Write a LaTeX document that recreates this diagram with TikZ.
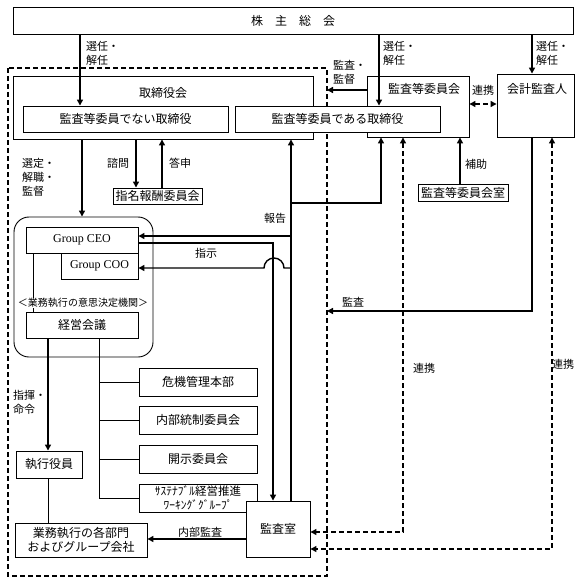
\documentclass[tikz,border=0pt]{standalone}
\usepackage{fontspec}
\setmainfont{Liberation Serif}
\newfontfamily\jpfont{Noto Sans CJK JP}
\usetikzlibrary{arrows.meta}

\tikzset{
  box/.style={rectangle,draw,line width=0.9bp,fill=white,inner sep=0pt,align=center,
    font=\jpfont\fontsize{12bp}{14bp}\selectfont},
  title/.style={inner sep=0pt,font=\jpfont\fontsize{12bp}{14bp}\selectfont},
  lbl/.style={inner sep=0pt,align=left,font=\jpfont\fontsize{11bp}{14bp}\selectfont},
  link/.style={line width=0.9bp},
  arr/.style={line width=1.4bp,-{Triangle[length=6bp,width=6bp]}},
  dsh/.style={line width=1.3bp,dash pattern=on 5bp off 3bp},
  darr/.style={dsh,{Triangle[length=6bp,width=6bp]}-{Triangle[length=6bp,width=6bp]}},
}

\begin{document}
\begin{tikzpicture}[x=1bp,y=-1bp]
\useasboundingbox (0,0) rectangle (581,584);

% shareholders and the management area
\node at (293,20.5) [box,minimum width=560bp,minimum height=27bp] (soukai) {株\quad 主\quad 総\quad 会};
\draw[dsh] (8,68) rectangle (327,576);

% board
\node at (163,107.5) [box,minimum width=300bp,minimum height=63bp] (torikai) {};
\node at (163,93) [title] (torikaiT) {取締役会};
\node at (418,106.5) [box,minimum width=102bp,minimum height=61bp] (iinkai) {};
\node at (424,89) [title] (iinkaiT) {監査等委員会};
\node at (125.5,119) [box,minimum width=205bp,minimum height=26bp] (nashi) {監査等委員でない取締役};
\node at (337.5,119) [box,minimum width=205bp,minimum height=26bp] (aru) {監査等委員である取締役};
\node at (535.5,105.5) [box,minimum width=77bp,minimum height=63bp] (kaikei) {};
\node at (537,89) [title] (kaikeiT) {会計監査人};
\node at (157.5,196) [box,minimum width=89bp,minimum height=16bp] (shimei) {指名報酬委員会};
\node at (463,192.5) [box,minimum width=90bp,minimum height=17bp] (shitsu) {監査等委員会室};

% execution
\node at (83.5,287) [draw,line width=0.9bp,rounded corners=15bp,minimum width=139bp,minimum height=140bp] (kettei) {};
\node at (82,240) [box,minimum width=112bp,minimum height=26bp,font=\fontsize{12bp}{14bp}\selectfont] (ceo) {Group CEO};
\node at (99.5,266) [box,minimum width=77bp,minimum height=26bp,font=\fontsize{12bp}{14bp}\selectfont] (coo) {Group COO};
\node at (82,325) [box,minimum width=112bp,minimum height=26bp] (keiei) {経営会議};
\node at (49,464.5) [box,minimum width=66bp,minimum height=27bp] (shikkou) {執行役員};
\node at (81,540) [box,minimum width=132bp,minimum height=34bp] (gyomu) {業務執行の各部門\\およびグループ会社};
\node at (198,382) [box,minimum width=118bp,minimum height=28bp] (kiki) {危機管理本部};
\node at (198,420) [box,minimum width=118bp,minimum height=28bp] (naibu) {内部統制委員会};
\node at (198,459) [box,minimum width=118bp,minimum height=28bp] (kaiji) {開示委員会};
\node at (198,498) [box,minimum width=118bp,minimum height=28bp,font=\jpfont\fontsize{11.5bp}{14.5bp}\selectfont] (sustain) {ｻｽﾃﾅﾌﾞﾙ経営推進\\ﾜｰｷﾝｸﾞｸﾞﾙｰﾌﾟ};
\node at (278,529) [box,minimum width=64bp,minimum height=56bp] (kansashitsu) {監査室};

% lanes
\coordinate (sen1) at (80,0);
\coordinate (sen2) at (379,0);
\coordinate (sen3) at (532,0);
\coordinate (kantokuEnd) at (327,90);
\coordinate (renkeiY) at (0,104);
\coordinate (sentei) at (82,0);
\coordinate (shimonX) at (136,0);
\coordinate (toushinX) at (162,0);
\coordinate (hojoX) at (460,0);
\coordinate (kansaEnd) at (327,311);
\coordinate (renkei1) at (403,0);
\coordinate (renkei2) at (552,0);
\coordinate (renkeiY1) at (0,532);
\coordinate (renkeiY2) at (0,549);
\coordinate (houX) at (291,0);
\coordinate (houX2) at (381,0);
\coordinate (houY) at (0,203);
\coordinate (houY2) at (0,236);
\coordinate (houY3) at (0,268);
\coordinate (shijiX) at (273,0);
\coordinate (shijiY) at (0,243);
\coordinate (naibuY) at (0,539);
\coordinate (ceoX) at (33,0);
\coordinate (shikiX) at (48,0);
\coordinate (branchX) at (99,0);

% election
\draw[arr] (soukai.south -| sen1) -- (nashi.north -| sen1);
\draw[arr] (soukai.south -| sen2) -- (aru.north -| sen2);
\draw[arr] (soukai.south -| sen3) -- (kaikei.north -| sen3);
\node at (86,53.5) [lbl,anchor=west] (sen1L) {選任・\\解任};
\node at (383,53.5) [lbl,anchor=west] (sen2L) {選任・\\解任};
\node at (536,53.5) [lbl,anchor=west] (sen3L) {選任・\\解任};

% audit committee
\draw[arr] (iinkai.west |- kantokuEnd) -- (kantokuEnd);
\node at (333,72) [lbl,anchor=west] (kantokuL) {監査・\\監督};
\draw[darr] (iinkai.east |- renkeiY) -- (kaikei.west |- renkeiY);
\node at (483,90) [lbl] (renkeiL) {連携};
\draw[arr] (shitsu.north -| hojoX) -- (iinkai.south -| hojoX);
\node at (476,164) [lbl] (hojoL) {補助};
\draw[arr] (kaikei.south -| sen3) |- (kansaEnd);
\node at (353,302) [lbl] (kansaL) {監査};
\draw[darr] (iinkai.south -| renkei1) |- (kansashitsu.east |- renkeiY1);
\node at (424,368) [lbl] (renkei1L) {連携};
\draw[darr] (kaikei.south -| renkei2) |- (kansashitsu.east |- renkeiY2);
\node at (563,364) [lbl] (renkei2L) {連携};

% board to execution
\draw[arr] (torikai.south -| sentei) -- (kettei.north -| sentei);
\node at (22,177) [lbl,anchor=west] (senteiL) {選定・\\解職・\\監督};
\draw[arr] (torikai.south -| shimonX) -- (shimei.north -| shimonX);
\node at (118,163) [lbl] (shimonL) {諮問};
\draw[arr] (shimei.north -| toushinX) -- (torikai.south -| toushinX);
\node at (180,163) [lbl] (toushinL) {答申};

% internal audit
\draw[arr] (kansashitsu.north -| houX) -- (torikai.south -| houX);
\draw[arr] (houX |- houY) -| (iinkai.south -| houX2);
\draw[arr] (houX |- houY2) -- (ceo.east |- houY2);
\draw[arr] (houX |- houY3) -- ++(-7,0) arc[start angle=0,end angle=180,radius=10bp] -- (coo.east |- houY3);
\node at (275,218) [lbl] (houkokuL) {報告};
\draw[arr] (ceo.east |- shijiY) -| (kansashitsu.north -| shijiX);
\node at (206,253) [lbl] (shijiL) {指示};
\draw[arr] (kansashitsu.west |- naibuY) -- (gyomu.east |- naibuY);
\node at (200,532) [lbl] (naibuL) {内部監査};

% execution lines
\draw[link] (ceo.south -| ceoX) -- (keiei.north -| ceoX);
\node at (83,303) [inner sep=0pt,fill=white,font=\jpfont\fontsize{10bp}{12bp}\selectfont] (ketteiL) {＜業務執行の意思決定機関＞};
\draw[arr] (keiei.south -| shikiX) -- (shikkou.north -| shikiX);
\node at (13,402) [lbl,anchor=west] (shikiL) {指揮・\\命令};
\draw[link] (shikkou.south -| shikiX) -- (gyomu.north -| shikiX);
\draw[link] (keiei.south -| branchX) |- (sustain.west);
\draw[link] (branchX |- kiki.west) -- (kiki.west);
\draw[link] (branchX |- naibu.west) -- (naibu.west);
\draw[link] (branchX |- kaiji.west) -- (kaiji.west);
\end{tikzpicture}
\end{document}
